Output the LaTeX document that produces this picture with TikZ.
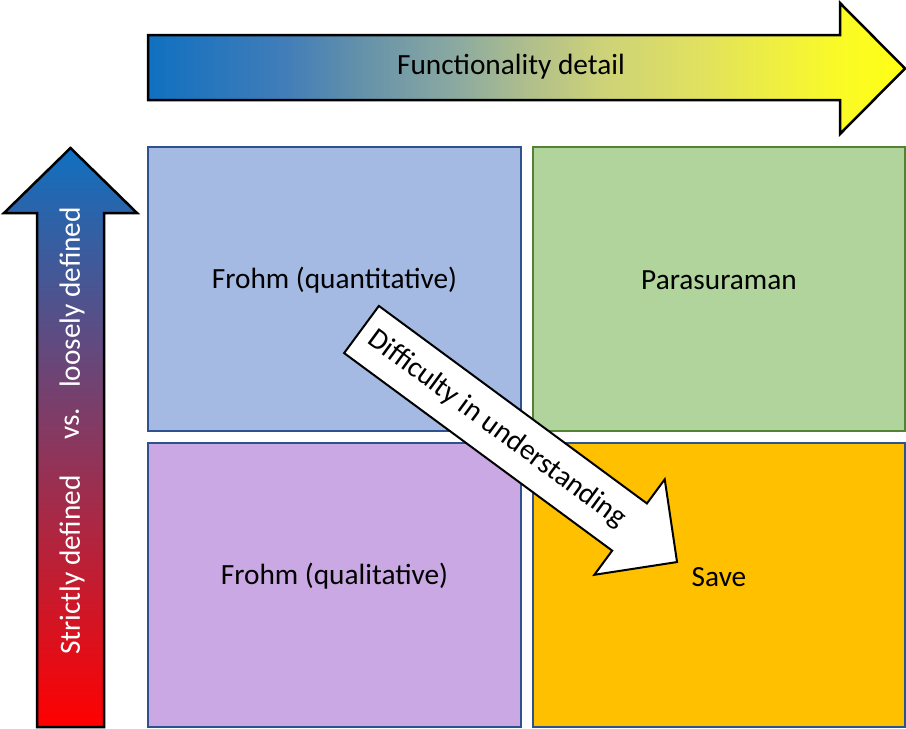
\documentclass[tikz,border=0pt]{standalone}
\usepackage{fontspec}
\setmainfont{Carlito}
\definecolor{accblue}{RGB}{16,112,192}
\definecolor{boxblue}{RGB}{164,186,226}
\definecolor{boxgreen}{RGB}{177,212,156}
\definecolor{boxpurple}{RGB}{201,168,227}
\definecolor{boxorange}{RGB}{255,192,0}
\definecolor{edgeblue}{RGB}{47,82,143}
\definecolor{edgegreen}{RGB}{84,130,53}
% blue-to-yellow fill of the horizontal axis arrow
% (the path's bounding box covers the band 25bp--75bp)
\pgfdeclarehorizontalshading{funcshade}{100bp}{%
  rgb(0bp)=(0.063,0.439,0.753);
  rgb(25bp)=(0.063,0.439,0.753);
  rgb(34bp)=(0.255,0.490,0.725);
  rgb(39bp)=(0.392,0.569,0.667);
  rgb(45.5bp)=(0.549,0.667,0.627);
  rgb(50bp)=(0.686,0.745,0.549);
  rgb(55bp)=(0.804,0.824,0.471);
  rgb(61.5bp)=(0.882,0.882,0.373);
  rgb(70.5bp)=(0.980,0.980,0.157);
  rgb(75bp)=(1,1,0.078);
  rgb(100bp)=(1,1,0.078)}
\begin{document}
\begin{tikzpicture}[x=1pt,y=-1pt,
  quad/.style={line width=2pt},
  bigarrow/.style={draw=black,line width=2.5pt,line join=miter},
  txt/.style={font=\fontsize{29.3}{35}\selectfont,inner sep=0pt}]
\useasboundingbox (0,0) rectangle (906,729);

% quadrant boxes
\filldraw[quad,fill=boxblue,draw=edgeblue]     (148,147) rectangle (521,431);
\filldraw[quad,fill=boxgreen,draw=edgegreen]   (533,147) rectangle (905,431);
\filldraw[quad,fill=boxpurple,draw=edgeblue]   (148,443) rectangle (521,727);
\filldraw[quad,fill=boxorange,draw=edgeblue]   (533,443) rectangle (905,727);

\node[txt] (quant) at (334.5,280) {Frohm (quantitative)};
\node[txt] (para)  at (719,280)   {Parasuraman};
\node[txt] (qual)  at (334.5,576) {Frohm (qualitative)};
\node[txt] (save)  at (719,577)   {Save};

% horizontal axis arrow
\path[bigarrow,shading=funcshade,shading angle=0]
  (148,35) -- (840,35) -- (840,3) -- (905,68.5) -- (840,134) -- (840,100) -- (148,100) -- cycle;
\node[txt] (func) at (511,67) {Functionality detail};

% vertical axis arrow
\path[bigarrow,top color=accblue,bottom color=red]
  (37,727) -- (37,213) -- (4,213) -- (70.5,148) -- (137,213) -- (104,213) -- (104,727) -- cycle;
\node[txt,text=white,rotate=90] (strict) at (72,565) {Strictly defined};
\node[txt,text=white,rotate=90] (vs)     at (72,424) {vs.};
\node[txt,text=white,rotate=90] (loose)  at (72,297.5) {loosely defined};

% diagonal arrow
\begin{scope}[shift={(361.5,329.5)},rotate=-36.39]
  \filldraw[bigarrow,fill=white,line width=2pt]
    (0,-29.3) -- (333,-29.3) -- (333,-59.3) -- (392,0) -- (333,59.3) -- (333,29.3) -- (0,29.3) -- cycle;
  \node[txt,transform shape] (diff) at (168,0) {Difficulty in understanding};
\end{scope}
\end{tikzpicture}
\end{document}
